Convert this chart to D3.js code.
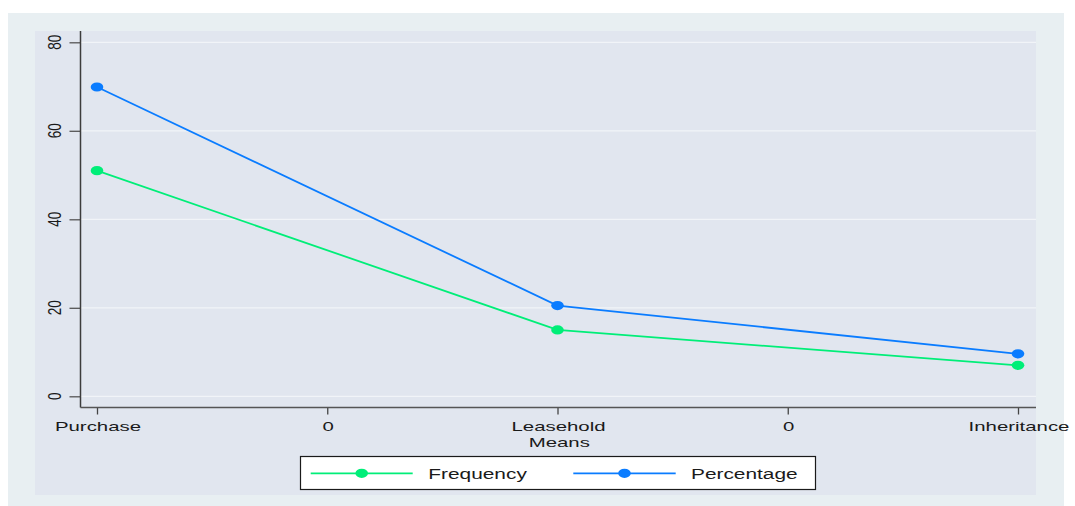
<!DOCTYPE html>
<html>
<head>
<meta charset="utf-8">
<script src="https://cdn.jsdelivr.net/npm/d3@7"></script>
<style>
  html, body { margin: 0; padding: 0; background: #ffffff; }
  text { font-family: "Liberation Sans", Arial, sans-serif; fill: #1a1a1a; }
</style>
</head>
<body>
<div id="chart"></div>
<script>
// ---- data ----
const categories = ["Purchase", "Leasehold", "Inheritance"];
const categoryPos = [1, 2, 3];
const frequency = [51, 15, 7];
const percentage = [69.9, 20.5, 9.6];
const xTickValues = [1, 1.5, 2, 2.5, 3];
const xTickLabels = ["Purchase", "0", "Leasehold", "0", "Inheritance"];
const yTickValues = [0, 20, 40, 60, 80];
const xTitle = "Means";
const seriesNames = ["Frequency", "Percentage"];
const seriesColors = ["#00ee78", "#0a7cff"];

// ---- layout ----
const W = 1075, H = 506;
const SX = 1.42; // horizontal stretch of text in the reference
const SXT = 1.5;  // stretch for x tick labels
const svg = d3.select("#chart").append("svg").attr("width", W).attr("height", H);

svg.append("rect").attr("x", 0).attr("y", 0).attr("width", W).attr("height", H).attr("fill", "#ffffff");
svg.append("rect").attr("x", 8).attr("y", 13).attr("width", 1056).attr("height", 493).attr("fill", "#e8eff2");
svg.append("rect").attr("x", 35).attr("y", 31).attr("width", 1001).attr("height", 464).attr("fill", "#e1e6ef");

const plotLeft = 80.5, plotRight = 1036, plotTop = 31, plotBottom = 407.5;

const x = d3.scaleLinear().domain([1, 3]).range([97, 1018]);
const y = d3.scaleLinear().domain([0, 80]).range([396.3, 42.3]);

// gridlines
svg.append("g").selectAll("line").data(yTickValues).join("line")
  .attr("x1", plotLeft).attr("x2", plotRight)
  .attr("y1", d => y(d)).attr("y2", d => y(d))
  .attr("stroke", "#f1f4f8").attr("stroke-width", 1.2);

// y axis
const yAxisG = svg.append("g").attr("transform", `translate(${plotLeft},0)`)
  .call(d3.axisLeft(y).tickValues(yTickValues).tickSize(11).tickFormat(""));
yAxisG.select(".domain").remove();
yAxisG.selectAll(".tick line").attr("stroke", "#555555").attr("stroke-width", 1.3);
svg.append("line").attr("x1", plotLeft).attr("x2", plotLeft).attr("y1", plotTop).attr("y2", plotBottom)
  .attr("stroke", "#3c3c3c").attr("stroke-width", 1.5);
svg.append("g").selectAll("g").data(yTickValues).join("g")
  .attr("transform", d => `translate(60.5,${y(d)}) scale(${SX},1) rotate(-90)`)
  .append("text").attr("text-anchor", "middle").attr("font-size", 13.5).text(d => d);

// x axis
const xAxisG = svg.append("g").attr("transform", `translate(0,${plotBottom})`)
  .call(d3.axisBottom(x).tickValues(xTickValues).tickSize(7).tickFormat(""));
xAxisG.select(".domain").remove();
xAxisG.selectAll(".tick line").attr("stroke", "#444444").attr("stroke-width", 1.3);
svg.append("line").attr("x1", plotLeft).attr("x2", plotRight).attr("y1", plotBottom).attr("y2", plotBottom)
  .attr("stroke", "#555555").attr("stroke-width", 1.3);
svg.append("g").selectAll("g").data(xTickValues).join("g")
  .attr("transform", (d) => `translate(${x(d) + 1},430.5) scale(${SXT},1)`)
  .append("text").attr("text-anchor", "middle").attr("font-size", 13.6)
  .text((d, i) => xTickLabels[i]);
svg.append("g").attr("transform", `translate(${(plotLeft + plotRight) / 2 + 1},446.5) scale(${SXT},1)`)
  .append("text").attr("text-anchor", "middle").attr("font-size", 13.6).text(xTitle);

// series
const series = [frequency, percentage];
const line = d3.line().x((d, i) => x(categoryPos[i])).y(d => y(d));
series.forEach((vals, s) => {
  svg.append("path").datum(vals).attr("d", line)
    .attr("fill", "none").attr("stroke", seriesColors[s]).attr("stroke-width", 1.8);
  svg.append("g").selectAll("ellipse").data(vals).join("ellipse")
    .attr("cx", (d, i) => x(categoryPos[i])).attr("cy", d => y(d))
    .attr("rx", 6.3).attr("ry", 4.6).attr("fill", seriesColors[s]);
});

// legend
const lg = svg.append("g");
lg.append("rect").attr("x", 300.5).attr("y", 456.5).attr("width", 515).attr("height", 33)
  .attr("fill", "#ffffff").attr("stroke", "#1a1a1a").attr("stroke-width", 1.2);
const legendItems = [
  { x1: 310.7, x2: 412.7, tx: 428.3 },
  { x1: 573.3, x2: 675.7, tx: 691 }
];
legendItems.forEach((it, s) => {
  lg.append("line").attr("x1", it.x1).attr("x2", it.x2).attr("y1", 473.3).attr("y2", 473.3)
    .attr("stroke", seriesColors[s]).attr("stroke-width", 1.8);
  lg.append("ellipse").attr("cx", (it.x1 + it.x2) / 2).attr("cy", 473.3)
    .attr("rx", 6.3).attr("ry", 4.6).attr("fill", seriesColors[s]);
  lg.append("g").attr("transform", `translate(${it.tx},479)`).append("g")
    .attr("transform", `scale(${SX * 0.98},1)`)
    .append("text").attr("font-size", 15).text(seriesNames[s]);
});
</script>
</body>
</html>
